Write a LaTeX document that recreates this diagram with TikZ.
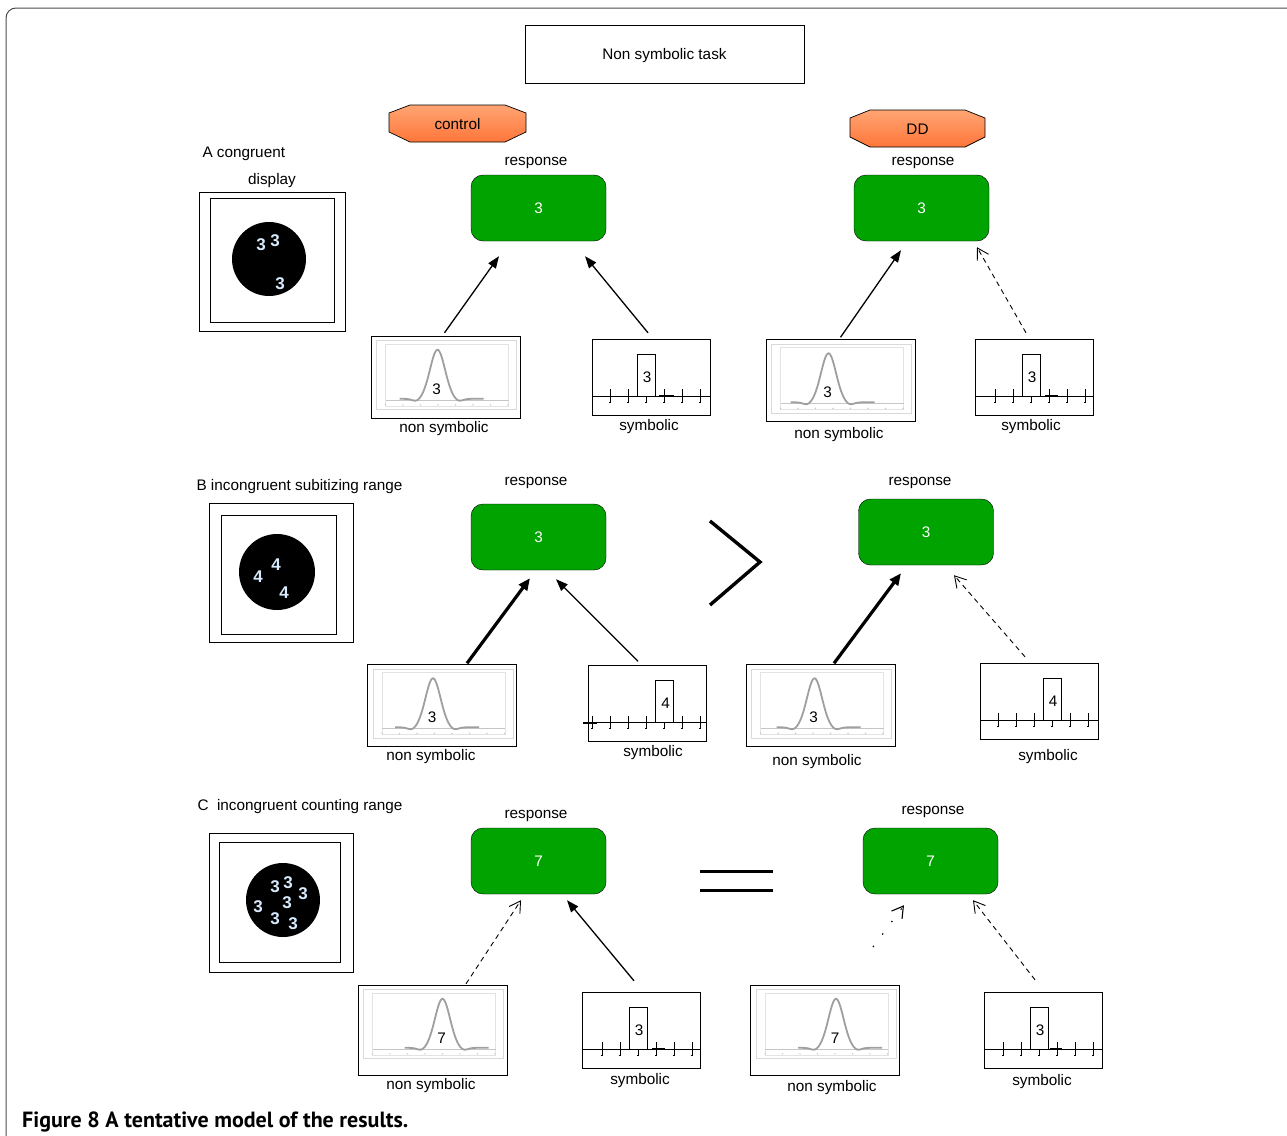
\documentclass[tikz,border=0pt]{standalone}
\usepackage{fontspec}
\setmainfont{Liberation Sans}
\newfontfamily\capfont{PT Sans}
\usetikzlibrary{arrows.meta}
\definecolor{respgreen}{RGB}{0,163,0}
\definecolor{octtop}{RGB}{255,165,115}
\definecolor{octbot}{RGB}{255,118,58}
\definecolor{dispnum}{RGB}{215,235,252}

\tikzset{
  titlebox/.style={draw, minimum width=279pt, minimum height=58pt},
  tagfill/.style={top color=octtop, bottom color=octbot, draw=black, line width=0.7pt},
  resp/.style={draw, fill=respgreen, rounded corners=12pt, minimum width=135pt, minimum height=66pt, text=white},
  nsbox/.style={draw, minimum width=149pt, minimum height=82pt, inner sep=0pt},
  symbox/.style={draw, minimum width=118pt, minimum height=76pt, inner sep=0pt},
  lab/.style={yshift=-2pt},
  dnum/.style={text=dispnum, font=\fontsize{17}{18}\selectfont\bfseries, inner sep=0pt},
  arr/.style={-{Triangle[length=12pt,width=9pt]}, line width=1.3pt},
  thickarr/.style={-{Triangle[length=12pt,width=10pt]}, line width=3.2pt},
  dasharr/.style={-{Straight Barb[length=11pt,width=13pt]}, line width=0.9pt, dash pattern=on 5pt off 4pt},
  dotarr/.style={-{Straight Barb[length=11pt,width=13pt]}, line width=1.1pt, dash pattern=on 1.5pt off 14pt},
  curve/.style={gray!75, line width=1.8pt},
  framegray/.style={gray!30, line width=0.8pt},
  plotgray/.style={gray!22, line width=0.6pt},
  axisgray/.style={gray!45, line width=0.6pt},
}

\begin{document}
\begin{tikzpicture}[x=1pt,y=-1pt,font=\fontsize{15.3}{18}\selectfont]
\useasboundingbox (0,0) rectangle (1287,1135);
\clip (0,0) rectangle (1287,1135);
% outer frame
\draw[black!70, line width=1pt, rounded corners=10pt] (6,8) rectangle (1320,1170);

% header
\node[titlebox] (task) at (664.5,54) {};
\node[lab] (tasklab) at (task.center) {Non symbolic task};
\shade[tagfill] (389,113) -- (410,105) -- (505,105) -- (526,113) -- (526,132) -- (505,142) -- (410,142) -- (389,132) -- cycle;
\node (ctrl) at (457.5,124) {control};
\shade[tagfill] (850,118) -- (870,110) -- (965,110) -- (985,118) -- (985,137) -- (965,147) -- (870,147) -- (850,137) -- cycle;
\node (dd) at (917.5,129) {DD};

% row labels and displays
\node[lab, anchor=west] (labA) at (199,152) {A congruent};
\node[lab] (dispA) at (272,179) {display};
\node[lab, anchor=west] (labB) at (193,485) {B incongruent subitizing range};
\node[lab, anchor=west] (labC) at (194,805) {C\ \ incongruent counting range};

\draw (199,192) rectangle (345,331);
\draw (210,198) rectangle (334,322);
\fill (269,259) circle (37);
\foreach \x/\y [count=\i] in {261/245,275/241,280/284}
  \node[dnum] (dA\i) at (\x,\y) {3};

\draw (209,503) rectangle (353,642);
\draw (221,515) rectangle (336,634);
\fill (277,572) circle (38);
\foreach \x/\y [count=\i] in {276/565,258/577,284/593}
  \node[dnum] (dB\i) at (\x,\y) {4};

\draw (209,833) rectangle (353,972);
\draw (219,842) rectangle (340,962);
\fill (283,900) circle (37);
\foreach \x/\y [count=\i] in {275/887,288/883,303/894,258/907,287/903,275/919,293/924}
  \node[dnum] (dC\i) at (\x,\y) {3};

% responses
\node[resp] (rA1) at (538.5,208) {3};
\node[resp] (rA2) at (921.5,208) {3};
\node[resp] (rB1) at (538.5,537) {3};
\node[resp] (rB2) at (926,532) {3};
\node[resp] (rC1) at (538.5,861) {7};
\node[resp] (rC2) at (930.5,861) {7};
\node[lab] (lrA1) at (536,161) {response};
\node[lab] (lrA2) at (923,161) {response};
\node[lab] (lrB1) at (536,481) {response};
\node[lab] (lrB2) at (920,481) {response};
\node[lab] (lrC1) at (536,814) {response};
\node[lab] (lrC2) at (933,810) {response};

% non symbolic panels
\node[nsbox] (nsA1) at (445.5,377) {};
\node[nsbox] (nsA2) at (840.5,380.5) {};
\node[nsbox] (nsB1) at (442,705.5) {};
\node[nsbox] (nsB2) at (820.5,705.5) {};
\node[nsbox, minimum height=90pt] (nsC1) at (432.5,1030) {};
\node[nsbox, minimum height=90pt] (nsC2) at (825,1030) {};
\foreach \p/\o/\n in {nsA1/-8/3,nsA2/-12/3,nsB1/-9/3,nsB2/-6/3,nsC1/10/7,nsC2/11/7}{
  \begin{scope}[shift={(\p.north)}]
    \pgfmathsetmacro\da{\o-38}
    \pgfmathsetmacro\db{\o+46}
    \draw[framegray] (-69,5) rectangle (71,74);
    \draw[plotgray] (-60,8) rectangle (63,70);
    \draw[axisgray] (-60,64) -- (63,64);
    \foreach \k in {0,...,7} \fill[axisgray] (-60+17.5*\k,69) circle (0.8);
    \draw[curve] plot[domain=\da:\db,samples=100] (\x,{63-49*exp(-((\x-(\o))/10.5)^2)+2.5*exp(-((\x-(\o)+21)/6)^2)+2.5*exp(-((\x-(\o)-21)/6)^2)});
    \node (\p-n) at (\o-1,53) {\n};
  \end{scope}
}
\node[lab] (lnA1) at (444,427) {non symbolic};
\node[lab] (lnA2) at (839,433) {non symbolic};
\node[lab] (lnB1) at (431,755) {non symbolic};
\node[lab] (lnB2) at (817,760) {non symbolic};
\node[lab] (lnC1) at (431,1084) {non symbolic};
\node[lab] (lnC2) at (832,1086) {non symbolic};

% symbolic panels
\node[symbox] (sA1) at (651,377) {};
\node[symbox] (sA2) at (1034.5,377) {};
\node[symbox] (sB1) at (647,703.5) {};
\node[symbox] (sB2) at (1039,701) {};
\node[symbox] (sC1) at (641.5,1030) {};
\node[symbox] (sC2) at (1043.5,1030) {};
\foreach \s/\r/\n/\ta/\tb in {sA1/-5/3/8/23,sA2/-3.5/3/10.5/23.5,sB1/17.5/4/-64/-50,sB2/13/4/0/0,sC1/-3.5/3/10.5/23.5,sC2/-4.5/3/6.5/18.5}{
  \begin{scope}[shift={(\s.south)}]
    \draw[line width=0.9pt] (-59,-19) -- (59,-19);
    \draw[line width=2.4pt] (\ta,-19) -- (\tb,-19);
    \foreach \k in {-4,...,4}{
      \pgfmathsetmacro\tx{\r+18*\k}
      \pgfmathtruncatemacro\ok{abs(\tx)<57}
      \ifnum\ok=1 \draw[line width=0.8pt] (\tx,-26) -- (\tx,-13) -- ++(-1.5,0); \fi
    }
    \draw[fill=white, line width=0.8pt] (\r-9,-19) rectangle (\r+9,-61);
    \node (\s-n) at (\r+1,-38) {\n};
  \end{scope}
}
\node[lab] (lsA1) at (649,425) {symbolic};
\node[lab] (lsA2) at (1031,425) {symbolic};
\node[lab] (lsB1) at (653,751) {symbolic};
\node[lab] (lsB2) at (1048,755) {symbolic};
\node[lab] (lsC1) at (640,1079) {symbolic};
\node[lab] (lsC2) at (1042,1080) {symbolic};

% connectors
\draw[arr] ([shift={(-1,-3)}]nsA1.north) -- ([shift={(-39.5,15)}]rA1.south);
\draw[arr] ([shift={(-3,-6)}]sA1.north) -- ([shift={(46.5,15)}]rA1.south);
\draw[arr] ([shift={(0,-2)}]nsA2.north) -- ([shift={(-20.5,9)}]rA2.south);
\draw[dasharr] ([shift={(-8.5,-6)}]sA2.north) -- ([shift={(55.5,6)}]rA2.south);

\draw[thickarr] ([shift={(25,-1)}]nsB1.north) -- ([shift={(-8.5,8)}]rB1.south);
\draw[arr] ([shift={(-9,-4)}]sB1.north) -- ([shift={(17.5,9)}]rB1.south);
\draw[thickarr] ([shift={(13.5,-1)}]nsB2.north) -- ([shift={(-25,8)}]rB2.south);
\draw[dasharr] ([shift={(-14,-6)}]sB2.north) -- ([shift={(28,10)}]rB2.south);

\draw[dasharr] ([shift={(33.5,-1)}]nsC1.north) -- ([shift={(-17.5,6)}]rC1.south);
\draw[arr] ([shift={(-7.5,-11)}]sC1.north) -- ([shift={(28.5,6)}]rC1.south);
\coordinate (dotC) at (873,947);
\draw[dotarr] (dotC) -- ([shift={(-26.5,11)}]rC2.south);
\draw[dasharr] ([shift={(-8.5,-12)}]sC2.north) -- ([shift={(42.5,6)}]rC2.south);

% comparison signs
\draw[line width=3.4pt] (710,521) -- (760,562) -- (710,605);
\draw[line width=3pt] (700,871) -- (773,871);
\draw[line width=3pt] (700,890) -- (773,890);

% caption
\node[anchor=base west, font=\capfont\bfseries\fontsize{22}{26}\selectfont, inner sep=0pt] (cap) at (22,1127) {Figure 8 A tentative model of the results.};
\end{tikzpicture}
\end{document}
